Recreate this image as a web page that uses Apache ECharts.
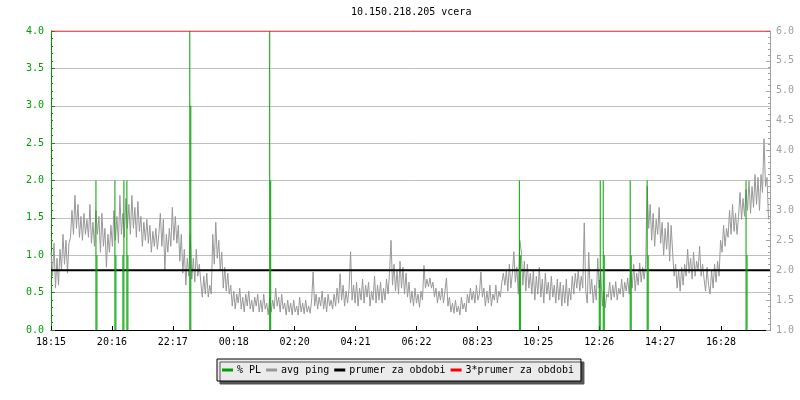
<!DOCTYPE html>
<html><head><meta charset="utf-8">
<script src="https://cdn.jsdelivr.net/npm/echarts@6/dist/echarts.min.js"></script>
<style>html,body{margin:0;padding:0;background:#fff}#c{width:800px;height:400px}</style>
</head><body><div id="c"></div>
<script>
const chartTitle = '10.150.218.205 vcera';
const xTickLabels = ['18:15','20:16','22:17','00:18','02:20','04:21','06:22','08:23','10:25','12:26','14:27','16:28'];
const xTickStepMin = 122;
const spanMin = 1440;
const sampleStepMin = 3;
const leftTicks = [0, 4, 0.5];
const rightTicks = [1, 6, 0.5];
// avg ping (right axis), one value every 3 minutes
const avgPing = [
2.3, 1.9, 2.45, 1.7, 2.2, 1.75, 2.35, 2.0, 2.6, 2.1, 2.5, 1.95, 2.45, 2.55, 3.0, 2.6, 3.25, 2.7, 3.1, 2.55,
2.9, 2.5, 2.95, 2.6, 2.85, 2.55, 3.1, 2.45, 2.8, 2.4, 3.0, 2.6, 2.9, 2.3, 2.95, 2.4, 2.7, 2.05, 2.6, 2.3,
2.75, 2.4, 3.0, 2.5, 2.9, 2.45, 3.25, 2.6, 2.95, 2.55, 3.2, 2.7, 3.1, 2.6, 3.25, 2.7, 3.05, 2.55, 3.15, 2.65,
2.9, 2.4, 2.8, 2.5, 2.85, 2.45, 2.75, 2.3, 2.65, 2.4, 2.7, 2.35, 2.6, 2.95, 2.4, 2.85, 2.0, 2.6, 2.3, 2.7,
2.4, 3.05, 2.5, 2.9, 2.45, 2.75, 2.15, 2.6, 1.95, 2.35, 1.75, 2.2, 1.9, 2.6, 1.85, 2.2, 1.8, 2.35, 1.9, 2.1,
1.8, 1.55, 1.9, 1.6, 1.95, 1.55, 1.75, 1.6, 2.6, 2.1, 2.8, 2.2, 2.5, 2.0, 2.3, 1.7, 2.05, 1.65, 1.95, 1.6,
1.75, 1.4, 1.65, 1.35, 1.6, 1.45, 1.7, 1.35, 1.55, 1.3, 1.6, 1.4, 1.65, 1.35, 1.5, 1.3, 1.55, 1.4, 1.6, 1.3,
1.5, 1.3, 1.6, 1.35, 1.45, 1.25, 1.55, 1.3, 1.5, 1.35, 1.7, 1.4, 1.55, 1.3, 1.6, 1.35, 1.45, 1.25, 1.5, 1.3,
1.45, 1.25, 1.5, 1.3, 1.4, 1.25, 1.55, 1.3, 1.45, 1.27, 1.5, 1.3, 1.4, 1.28, 1.5, 1.97, 1.4, 1.6, 1.35, 1.55,
1.4, 1.65, 1.35, 1.55, 1.3, 1.6, 1.4, 1.5, 1.35, 1.6, 1.4, 1.7, 1.45, 1.94, 1.5, 1.75, 1.4, 1.65, 1.45, 1.7,
2.31, 1.5, 1.75, 1.45, 1.8, 1.4, 1.7, 1.5, 1.85, 1.45, 1.75, 1.55, 1.8, 1.4, 1.65, 1.5, 1.9, 1.45, 1.75, 1.5,
1.8, 1.45, 1.7, 1.5, 1.85, 1.6, 1.95, 2.5, 1.75, 2.1, 1.65, 2.0, 1.6, 2.15, 1.7, 2.05, 1.6, 1.95, 1.55, 1.8,
1.45, 1.65, 1.4, 1.7, 1.45, 1.6, 1.38, 1.65, 1.5, 2.08, 1.7, 1.85, 1.72, 1.87, 1.7, 1.8, 1.55, 1.7, 1.45, 1.65,
1.5, 1.7, 1.45, 1.65, 1.87, 1.4, 1.55, 1.3, 1.45, 1.28, 1.5, 1.3, 1.4, 1.25, 1.55, 1.35, 1.45, 1.3, 1.6, 1.45,
1.7, 1.5, 1.65, 1.45, 1.75, 1.5, 1.6, 1.97, 1.55, 1.7, 1.4, 1.65, 1.45, 1.75, 1.4, 1.6, 1.5, 1.75, 1.45, 1.65,
1.55, 1.8, 1.95, 1.75, 2.0, 1.65, 2.1, 1.7, 1.95, 2.31, 1.8, 2.05, 1.6, 2.5, 2.3, 1.75, 2.15, 1.65, 2.1, 1.7,
1.95, 1.6, 2.0, 1.5, 1.9, 1.6, 2.05, 1.55, 1.85, 1.45, 1.95, 1.6, 1.8, 1.5, 1.9, 1.55, 1.75, 1.45, 1.85, 1.5,
1.8, 1.4, 1.75, 1.45, 1.85, 1.4, 1.7, 1.5, 1.9, 1.6, 1.95, 1.7, 2.0, 1.65, 1.9, 1.7, 2.79, 1.65, 1.45, 2.3,
1.6, 1.85, 1.45, 1.75, 1.5, 2.2, 1.7, 2.0, 1.4, 1.65, 1.37, 1.6, 1.55, 1.8, 1.5, 1.75, 1.55, 1.81, 1.5, 1.7,
1.6, 1.85, 1.55, 1.8, 1.65, 1.87, 1.6, 2.0, 1.7, 2.1, 1.65, 1.95, 1.75, 2.12, 1.8, 2.05, 1.85, 2.1, 3.4, 2.7,
3.1, 2.5, 2.95, 2.4, 2.85, 2.6, 3.05, 2.45, 2.8, 2.25, 2.7, 2.35, 2.8, 2.15, 2.75, 2.3, 1.9, 2.1, 1.7, 2.0,
1.65, 2.05, 1.75, 2.1, 1.9, 2.35, 1.95, 2.2, 1.85, 2.3, 1.9, 2.15, 2.0, 2.4, 1.9, 2.1, 1.85, 1.65, 2.05, 1.75,
1.6, 2.0, 1.7, 2.1, 1.8, 2.15, 1.9, 2.5, 2.3, 2.75, 2.4, 2.7, 2.55, 3.0, 2.6, 3.1, 2.65, 2.95, 2.6, 2.9,
3.3, 2.85, 3.2, 2.9, 3.35, 3.0, 3.5, 2.95, 3.4, 3.05, 3.6, 3.1, 3.55, 3.0, 3.6, 3.3, 4.2, 3.4, 3.55, 2.85
];
// % packet loss (left axis): minute offsets and values
const plMinutes = [90, 92, 128, 130, 144, 146, 152, 154, 278, 280, 438, 440, 938, 940, 1098, 1100, 1106, 1108, 1160, 1162, 1194, 1196, 1392, 1394];
const plValues  = [2, 1, 2, 1, 1, 2, 2, 1, 4, 3, 4, 2, 2, 1, 0.67, 2, 2, 1, 2, 1, 2, 1, 2, 1];
const prumer = 2.0;
const prumer3 = 6.0;

const FONT = 'DejaVu Sans Mono';
const GREEN = '#00a000';
const chart = echarts.init(document.getElementById('c'), null, {renderer: 'canvas'});
chart.setOption({
  animation: false,
  backgroundColor: '#ffffff',
  title: {
    text: chartTitle, left: 351, top: 7, padding: 0,
    textStyle: {fontFamily: FONT, fontSize: 10, fontWeight: 'normal', color: '#000'}
  },
  legend: {
    left: 217, top: 359, orient: 'horizontal',
    itemWidth: 11, itemHeight: 3, itemGap: 5,
    padding: [6, 7, 6, 5],
    backgroundColor: '#ebebeb', borderColor: '#000', borderWidth: 1,
    shadowColor: '#555', shadowOffsetX: 3, shadowOffsetY: 3, shadowBlur: 0,
    selectedMode: false,
    textStyle: {fontFamily: FONT, fontSize: 10, color: '#000', padding: [0, 0, 0, -1]},
    data: [
      {name: '% PL', icon: 'rect'},
      {name: 'avg ping', icon: 'rect'},
      {name: 'prumer za obdobi', icon: 'rect'},
      {name: '3*prumer za obdobi', icon: 'rect'}
    ]
  },
  grid: {left: 51, right: 30, top: 31, bottom: 70},
  xAxis: {
    type: 'value', min: 0, max: spanMin, interval: xTickStepMin,
    axisLine: {lineStyle: {color: '#000', width: 1}},
    axisTick: {inside: true, length: 4, lineStyle: {color: '#000'}},
    axisLabel: {
      color: '#000', fontFamily: FONT, fontSize: 10, margin: 7,
      showMaxLabel: false,
      formatter: function (v) {
        const k = Math.round(v / xTickStepMin);
        return (Math.abs(v - k * xTickStepMin) < 0.01 && k < xTickLabels.length) ? xTickLabels[k] : '';
      }
    },
    splitLine: {show: false}
  },
  yAxis: [{
    type: 'value', position: 'left', min: leftTicks[0], max: leftTicks[1], interval: leftTicks[2],
    axisLine: {show: true, lineStyle: {color: GREEN}},
    axisTick: {show: true, inside: true, length: 4, lineStyle: {color: GREEN}},
    minorTick: {show: true, splitNumber: 5, length: 2, lineStyle: {color: GREEN}},
    axisLabel: {color: GREEN, fontFamily: FONT, fontSize: 10, margin: 7, formatter: v => v.toFixed(1)},
    splitLine: {show: true, lineStyle: {color: '#c0c0c0', width: 1}}
  }, {
    type: 'value', position: 'right', min: rightTicks[0], max: rightTicks[1], interval: rightTicks[2],
    axisLine: {show: true, lineStyle: {color: '#a0a0a0'}},
    axisTick: {show: true, inside: true, length: 4, lineStyle: {color: '#a0a0a0'}},
    minorTick: {show: true, splitNumber: 5, length: 2, lineStyle: {color: '#a0a0a0'}},
    axisLabel: {color: '#a0a0a0', fontFamily: FONT, fontSize: 10, margin: 6, formatter: v => v.toFixed(1)},
    splitLine: {show: false}
  }],
  series: [{
    name: 'avg ping', type: 'line', yAxisIndex: 1, z: 2,
    data: avgPing.map((v, i) => [i * sampleStepMin, v]),
    symbol: 'none', lineStyle: {color: '#999999', width: 1}, itemStyle: {color: '#999999'}
  }, {
    name: 'prumer za obdobi', type: 'line', yAxisIndex: 1, z: 3,
    data: [[0, prumer], [spanMin, prumer]],
    symbol: 'none', lineStyle: {color: '#000', width: 2}, itemStyle: {color: '#000'}
  }, {
    name: '% PL', type: 'bar', yAxisIndex: 0, z: 4,
    data: plMinutes.map((m, i) => [m, plValues[i]]),
    barWidth: 1, itemStyle: {color: GREEN}
  }, {
    name: '3*prumer za obdobi', type: 'line', yAxisIndex: 1, z: 5,
    data: [[0, prumer3], [spanMin, prumer3]],
    symbol: 'none', lineStyle: {color: '#ff0000', width: 1}, itemStyle: {color: '#ff0000'}
  }]
});
</script>
</body></html>
